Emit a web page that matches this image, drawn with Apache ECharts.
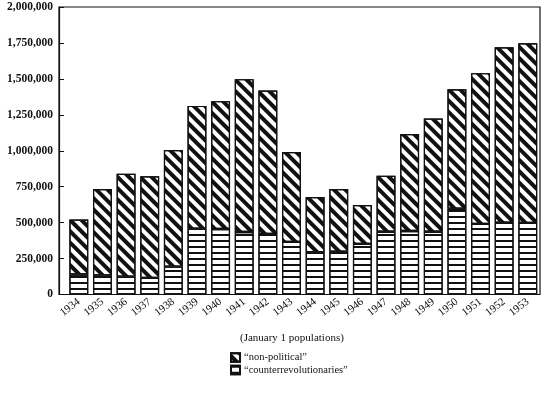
<!DOCTYPE html>
<html>
<head>
<meta charset="utf-8">
<script src="https://cdn.jsdelivr.net/npm/echarts@6/dist/echarts.min.js"></script>
<style>html,body{margin:0;padding:0;background:#fff}#c{width:551px;height:395px}</style>
</head>
<body>
<div id="c"></div>
<script>
const years = ['1934','1935','1936','1937','1938','1939','1940','1941','1942','1943','1944','1945','1946','1947','1948','1949','1950','1951','1952','1953'];
const counterrevolutionaries = [139000,132000,123000,116000,194000,458000,456000,435000,421000,366000,294000,297000,352000,437000,442000,437000,597000,491000,500000,498000];
const nonPolitical = [382000,602000,717000,706000,811000,854000,889000,1063000,998000,625000,384000,437000,271000,389000,674000,787000,831000,1049000,1220000,1250000];
const yTicks = [0,250000,500000,750000,1000000,1250000,1500000,1750000,2000000];
const seriesNames = ['\u201Cnon-political\u201D','\u201Ccounterrevolutionaries\u201D'];
const axisTitle = '(January 1 populations)';

const serif = '"Liberation Serif","DejaVu Serif",serif';
const ink = '#111';

const chart = echarts.init(document.getElementById('c'), null, {renderer:'canvas'});
chart.setOption({
  backgroundColor:'#fff',
  animation:false,
  title:{
    text: axisTitle, left: 235, top: 328,
    textStyle:{fontFamily:serif, fontSize:11, fontWeight:'normal', color:ink}
  },
  legend:{
    data:[seriesNames[0], seriesNames[1]],
    orient:'vertical', left:225, top:347,
    icon:'rect', itemWidth:9, itemHeight:8.5, itemGap:1.5,
    textStyle:{fontFamily:serif, fontSize:10.5, color:ink, padding:[0,0,0,-1]}
  },
  grid:[
    {left:67, right:11.4, top:7, bottom:100.5, containLabel:false},
    {left:59, right:11, top:7, bottom:100.5, show:true, borderColor:ink, borderWidth:1.2, backgroundColor:'transparent', z:0}
  ],
  xAxis:[
    {type:'category', data:years, gridIndex:0,
     axisLine:{show:false}, axisTick:{show:false},
     axisLabel:{rotate:38, margin:6, fontFamily:serif, fontSize:11, color:ink, interval:0}},
    {type:'value', gridIndex:1, show:false}
  ],
  yAxis:[
    {type:'value', gridIndex:0, min:yTicks[0], max:yTicks[yTicks.length-1], interval:yTicks[1]-yTicks[0],
     offset:8,
     axisLine:{show:true, lineStyle:{color:ink, width:1.2}},
     axisTick:{show:true, inside:true, length:5, lineStyle:{color:ink, width:1}},
     splitLine:{show:false},
     axisLabel:{margin:6, fontFamily:serif, fontSize:11.5, fontWeight:'bold', color:ink,
       formatter:v=>v.toLocaleString('en-US')}},
    {type:'value', gridIndex:1, show:false}
  ],
  series:[
    {name:seriesNames[1], type:'bar', stack:'total', data:counterrevolutionaries,
     barCategoryGap:'20%',
     itemStyle:{color:'#fff', borderColor:ink, borderWidth:1.2,
       decal:{symbol:'rect', symbolSize:1, color:ink, dashArrayX:[1,0], dashArrayY:[1.6,3.8], rotation:0}}},
    {name:seriesNames[0], type:'bar', stack:'total', data:nonPolitical,
     barCategoryGap:'20%',
     itemStyle:{color:'#fff', borderColor:ink, borderWidth:1.2,
       decal:{symbol:'rect', symbolSize:1, color:ink, dashArrayX:[1,0], dashArrayY:[3.8,3.8], rotation:Math.PI/4}}}
  ]
});
</script>
</body>
</html>
